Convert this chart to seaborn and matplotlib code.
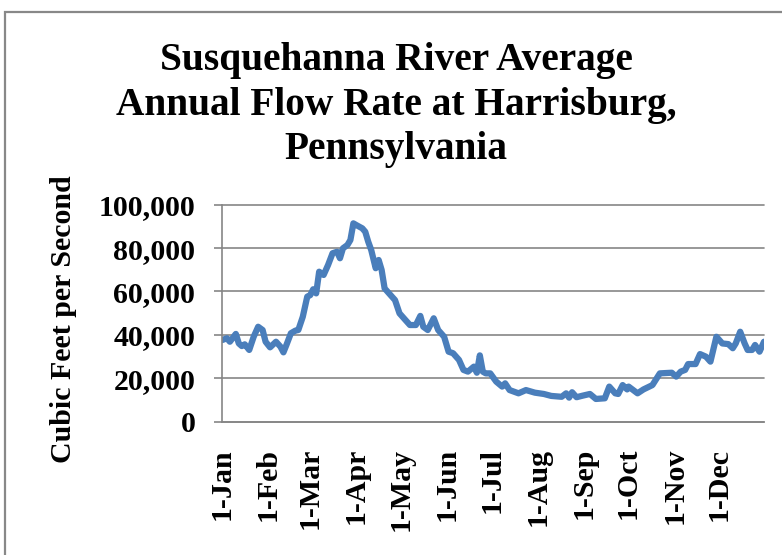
import matplotlib
matplotlib.use("Agg")
import matplotlib.pyplot as plt
from matplotlib.patches import Rectangle
import seaborn as sns
import pandas as pd

# ---- data (day of year, average flow in cubic feet per second) ----
day_of_year = [0, 3, 5, 9, 11, 13, 15, 18, 21, 24, 27, 29, 32, 36, 39, 41, 43, 46, 49, 51,
               54, 57, 59, 61, 63, 65, 68, 71, 74, 77, 79, 81, 84, 86, 88, 90, 94, 96, 98,
               100, 103, 105, 107, 109, 113, 116, 119, 123, 126, 130, 133, 135, 138, 142,
               145, 149, 152, 155, 159, 162, 165, 169, 171, 173, 175, 177, 180, 184, 188,
               190, 193, 199, 204, 210, 216, 221, 228, 231, 233, 235, 238, 242, 247, 251,
               257, 260, 264, 266, 269, 272, 273, 279, 283, 289, 294, 302, 305, 308, 311,
               313, 318, 321, 325, 328, 332, 336, 340, 343, 345, 348, 351, 353, 356, 358,
               361, 364]
flow_cfs = [37600, 38400, 36800, 40400, 36000, 34800, 35600, 33000, 39100, 43700, 42200,
            36800, 34200, 36800, 34500, 31900, 35300, 40700, 41900, 42200,
            48300, 57600, 58300, 61000, 59100, 69100, 67600, 72200, 77600, 78300, 75300,
            79900, 81400, 83700, 91400, 90600, 89100, 87500, 82900,
            79100, 70700, 74500, 69900, 61400, 58300, 56000, 49900, 46800, 44500, 44500,
            48700, 43700, 42200, 47600,
            42200, 39100, 32200, 31500, 28400, 23800, 23000, 25300, 22500, 30500, 23000,
            22200, 22200, 18400, 16100,
            17600, 14500, 13000, 14500, 13300, 12700, 11800, 11400, 13000, 11000, 13500,
            11200, 11900, 12700, 10400,
            10700, 16100, 13000, 12700, 16800, 14800, 16100, 13000, 14800, 16800, 22200,
            22500, 20700, 23000, 23800,
            26500, 26500, 31100, 29900, 27600, 39100, 36000, 35700, 33800, 36000, 41400,
            36000, 33000, 33000, 35300,
            32200, 36800]

month_start_days = [0, 31, 59, 90, 120, 151, 181, 212, 243, 273, 304, 334]
month_labels = ["1-Jan", "1-Feb", "1-Mar", "1-Apr", "1-May", "1-Jun",
                "1-Jul", "1-Aug", "1-Sep", "1-Oct", "1-Nov", "1-Dec"]
y_ticks = [0, 20000, 40000, 60000, 80000, 100000]
y_tick_labels = ["0", "20,000", "40,000", "60,000", "80,000", "100,000"]

title_text = "Susquehanna River Average\nAnnual Flow Rate at Harrisburg,\nPennsylvania"
y_label = "Cubic Feet per Second"

# ---- style ----
sns.set_theme(style="white")
plt.rcParams["font.family"] = ["Liberation Serif", "DejaVu Serif"]
plt.rcParams["font.weight"] = "bold"

W, H = 782, 555
fig = plt.figure(figsize=(W / 100, H / 100), dpi=100)
fig.patch.set_facecolor("white")

left, right, top, bottom = 221.7, 764, 204.7, 421.5
ax = fig.add_axes([left / W, (H - bottom) / H, (right - left) / W, (bottom - top) / H])

df = pd.DataFrame({"day": day_of_year, "flow": flow_cfs})
sns.lineplot(data=df, x="day", y="flow", ax=ax, color="#4A7EBB", linewidth=4.5,
             solid_joinstyle="round", solid_capstyle="round")

grid_col = "#868686"
ax.set_xlim(-0.5, 364)
ax.set_ylim(0, 100000)
ax.set_yticks(y_ticks)
ax.set_yticklabels(y_tick_labels)
ax.set_xticks(month_start_days)
ax.set_xticklabels(month_labels, rotation=90)
ax.yaxis.grid(True, color=grid_col, linewidth=1.2)
ax.xaxis.grid(False)
ax.set_axisbelow(True)
for gl in ax.get_ygridlines():
    gl.set_clip_on(False)

for s in ["top", "right"]:
    ax.spines[s].set_visible(False)
for s in ["left", "bottom"]:
    ax.spines[s].set_color(grid_col)
    ax.spines[s].set_linewidth(1.2)

ax.tick_params(axis="y", which="major", direction="out", length=6, width=1.2,
               color=grid_col, pad=13, labelsize=21.5, labelcolor="black")
ax.tick_params(axis="x", which="major", length=0, pad=19, labelsize=21.5,
               labelcolor="black")
ax.yaxis.set_ticks_position("left")
for lab in ax.get_xticklabels() + ax.get_yticklabels():
    lab.set_fontweight("bold")

ax.set_xlabel("")
ax.set_ylabel(y_label, fontsize=21.5, fontweight="bold", color="black")
ax.yaxis.set_label_coords((77 - left) / (right - left), 0.472)

fig.text(396 / W, 1 - 42 / H, title_text, ha="center", va="top", fontsize=28.4,
         fontweight="bold", linespacing=1.27, color="black")

# outer chart frame (cut off on right and bottom)
fig.patches.append(Rectangle((5 / W, -0.1), 1.2, 1.1 - 12 / H, transform=fig.transFigure,
                             fill=False, edgecolor="#888888", linewidth=1.6))

fig.savefig("out.png", dpi=100, facecolor="white")
